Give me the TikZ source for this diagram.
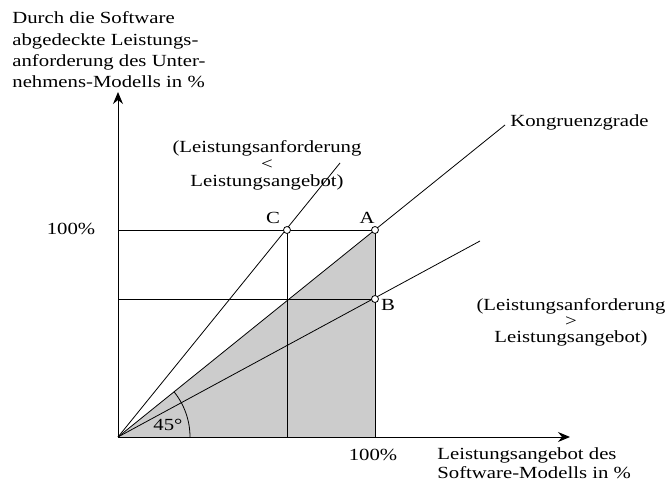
\documentclass[tikz,border=0pt]{standalone}
\usepackage{fontspec}
\setmainfont{Liberation Serif}[FakeStretch=1.22]
\usetikzlibrary{arrows.meta}
\begin{document}
\begin{tikzpicture}[x=1pt,y=-1pt,
    line width=0.8pt,
    lbl/.style={inner sep=0pt,font=\fontsize{17}{17}\selectfont},
    axis/.style={line width=1pt,-{Stealth[length=12pt,width=10pt,inset=4pt]}},
    pt/.style={circle,draw,fill=white,line width=0.8pt,inner sep=0pt,minimum size=7pt},
    shade/.style={fill=black!20}]
  \useasboundingbox (0,0) rectangle (670,481);

  % key points
  \coordinate (O) at (118,437);
  \coordinate (Ytip) at (118,92);
  \coordinate (Xtip) at (570,437);
  \coordinate (A) at (375,230);
  \coordinate (B) at (375,299);
  \coordinate (C) at (287,230);
  \coordinate (Abase) at (375,437);
  \coordinate (Cbase) at (287,437);
  \coordinate (Y100) at (118,230);
  \coordinate (YB) at (118,299);
  \coordinate (Kend) at (505,125);
  \coordinate (Cend) at (340,163);
  \coordinate (Bend) at (480,241);

  % covered area
  \fill[shade] (O) -- (A) -- (Abase) -- cycle;

  % reference lines
  \draw (Y100) -- (A);
  \draw (YB) -- (B);
  \draw (C) -- (Cbase);
  \draw (A) -- (Abase);

  % rays from the origin
  \draw (O) -- (Kend);
  \draw (O) -- (Cend);
  \draw (O) -- (Bend);

  % angle mark
  \draw (190,437) arc[start angle=0,end angle=-38.9,radius=72];

  % axes
  \draw[axis] (O) -- (Ytip);
  \draw[axis] (O) -- (Xtip);

  % marked points
  \node[pt] (pA) at (A) {};
  \node[pt] (pB) at (B) {};
  \node[pt] (pC) at (C) {};

  % labels
  \node[lbl,anchor=west,align=left,font=\fontsize{17}{21.3}\selectfont] (ylab) at (12,50)
    {Durch die Software\\abgedeckte Leistungs-\\anforderung des Unter-\\nehmens-Modells in \%};
  \node[lbl,anchor=west,align=left,font=\fontsize{17}{19}\selectfont] (xlab) at (437,463)
    {Leistungsangebot des\\Software-Modells in \%};
  \node[lbl] (y100) at (71,229) {100\%};
  \node[lbl] (x100) at (373,455) {100\%};
  \node[lbl] (lC) at (273,218) {C};
  \node[lbl] (lA) at (367,218) {A};
  \node[lbl] (lB) at (388,305) {B};
  \node[lbl,anchor=west] (kong) at (510,122) {Kongruenzgrade};
  \node[lbl] (ang) at (168,425) {45°};
  \node[lbl,align=center] (less) at (267,165)
    {(Leistungsanforderung\\<\\Leistungsangebot)};
  \node[lbl,align=center,font=\fontsize{17}{16}\selectfont] (more) at (571,322)
    {(Leistungsanforderung\\>\\Leistungsangebot)};
\end{tikzpicture}
\end{document}
